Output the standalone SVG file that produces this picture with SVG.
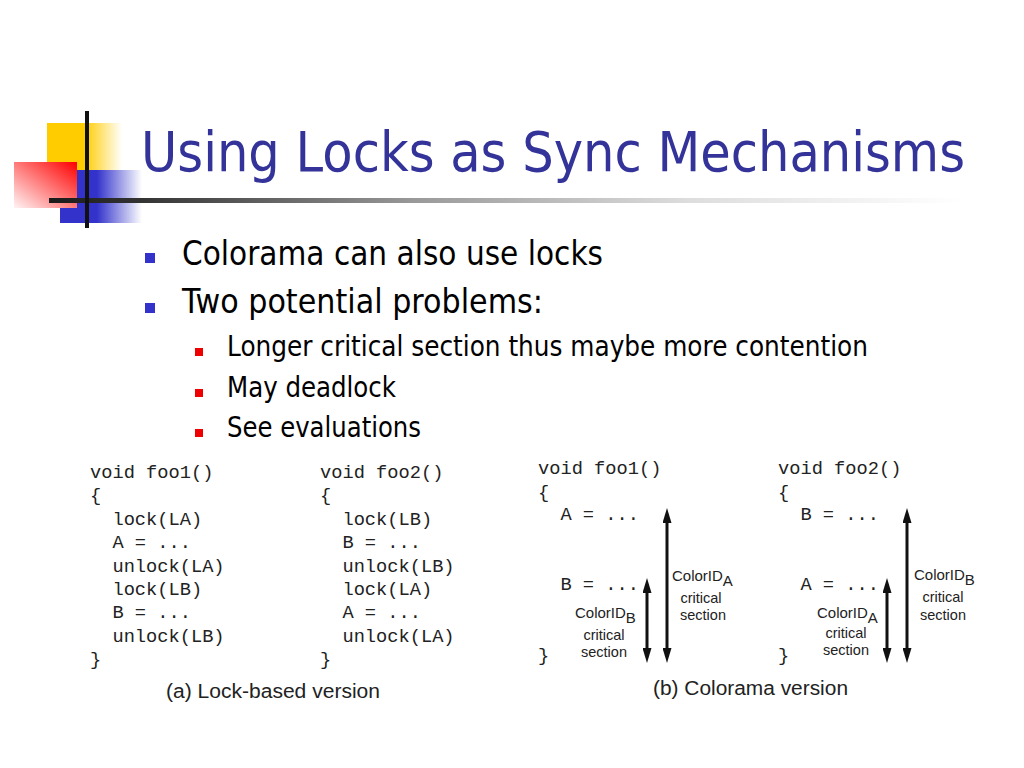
<svg xmlns="http://www.w3.org/2000/svg" width="1024" height="768" viewBox="0 0 1024 768">
<style>
.title{font-family:"DejaVu Sans",Verdana,sans-serif;font-size:56px;fill:#333399}
.b1{font-family:"DejaVu Sans",Verdana,sans-serif;font-size:34px;fill:#000}
.b2{font-family:"DejaVu Sans",Verdana,sans-serif;font-size:28px;fill:#000}
.code{font-family:"Liberation Mono","Courier New",monospace;font-size:18.7px;fill:#222;white-space:pre}
.cap{font-family:"Liberation Sans",Arial,sans-serif;font-size:20px;fill:#222}
.lbl{font-family:"Liberation Sans",Arial,sans-serif;font-size:15px;fill:#222}
.lbl2{font-family:"Liberation Sans",Arial,sans-serif;font-size:14.5px;fill:#222;text-anchor:middle}
.arr{stroke:#111;stroke-width:3;fill:none;marker-start:url(#ah);marker-end:url(#ah)}
</style>
<defs>
<linearGradient id="gy" x1="0" y1="0" x2="1" y2="0"><stop offset="0" stop-color="#FFCC00"/><stop offset="0.5" stop-color="#FFCC00"/><stop offset="1" stop-color="#FFFFFF"/></linearGradient>
<linearGradient id="gb" x1="0" y1="0" x2="1" y2="0"><stop offset="0" stop-color="#3333CC"/><stop offset="0.45" stop-color="#3333CC"/><stop offset="1" stop-color="#FFFFFF"/></linearGradient>
<linearGradient id="gr" x1="1" y1="0" x2="0" y2="1"><stop offset="0" stop-color="#FF0000"/><stop offset="1" stop-color="#FFF4F4"/></linearGradient>
<linearGradient id="gl" x1="0" y1="0" x2="1" y2="0"><stop offset="0" stop-color="#1a1a1a"/><stop offset="0.1" stop-color="#333"/><stop offset="0.4" stop-color="#999"/><stop offset="0.7" stop-color="#ddd"/><stop offset="1" stop-color="#fff"/></linearGradient>
<marker id="ah" viewBox="0 0 15 9" refX="5" refY="4.5" markerWidth="15" markerHeight="9" markerUnits="userSpaceOnUse" orient="auto-start-reverse"><path d="M0,0 L15,4.5 L0,9 z" fill="#111"/></marker>
</defs>
<rect width="1024" height="768" fill="#fff"/>
<g id="logo">
<rect x="47" y="123" width="75" height="47" fill="url(#gy)"/>
<rect x="60" y="170" width="82" height="53" fill="url(#gb)"/>
<rect x="14" y="162" width="63" height="46" fill="url(#gr)"/>
<rect x="49" y="198" width="912" height="5" fill="url(#gl)"/>
<rect x="85" y="111" width="4" height="117" fill="#111"/>
</g>
<g id="title"><text class="title" x="141" y="171" textLength="824" lengthAdjust="spacingAndGlyphs">Using Locks as Sync Mechanisms</text></g>
<g id="bullets">
<rect x="145" y="253" width="10" height="10" fill="#3333CC"/>
<text class="b1" x="182" y="265" textLength="421" lengthAdjust="spacingAndGlyphs">Colorama can also use locks</text>
<rect x="145" y="303" width="10" height="10" fill="#3333CC"/>
<text class="b1" x="182" y="313" textLength="361" lengthAdjust="spacingAndGlyphs">Two potential problems:</text>
<rect x="195" y="348" width="8" height="8" fill="#EE0000"/>
<text class="b2" x="227" y="356" textLength="641" lengthAdjust="spacingAndGlyphs">Longer critical section thus maybe more contention</text>
<rect x="195" y="389" width="8" height="8" fill="#EE0000"/>
<text class="b2" x="227" y="397" textLength="169" lengthAdjust="spacingAndGlyphs">May deadlock</text>
<rect x="195" y="429" width="8" height="8" fill="#EE0000"/>
<text class="b2" x="227" y="437" textLength="194" lengthAdjust="spacingAndGlyphs">See evaluations</text>
</g>
<g id="lock-foo1">
<text class="code" x="90" y="478">void foo1()</text>
<text class="code" x="90" y="501.4">{</text>
<text class="code" x="90" y="524.8">  lock(LA)</text>
<text class="code" x="90" y="548.2">  A = ...</text>
<text class="code" x="90" y="571.6">  unlock(LA)</text>
<text class="code" x="90" y="595">  lock(LB)</text>
<text class="code" x="90" y="618.4">  B = ...</text>
<text class="code" x="90" y="641.8">  unlock(LB)</text>
<text class="code" x="90" y="665.2">}</text>
</g>
<g id="lock-foo2">
<text class="code" x="320" y="478">void foo2()</text>
<text class="code" x="320" y="501.4">{</text>
<text class="code" x="320" y="524.8">  lock(LB)</text>
<text class="code" x="320" y="548.2">  B = ...</text>
<text class="code" x="320" y="571.6">  unlock(LB)</text>
<text class="code" x="320" y="595">  lock(LA)</text>
<text class="code" x="320" y="618.4">  A = ...</text>
<text class="code" x="320" y="641.8">  unlock(LA)</text>
<text class="code" x="320" y="665.2">}</text>
</g>
<g id="caption-a"><text class="cap" x="166" y="698" textLength="214" lengthAdjust="spacingAndGlyphs">(a) Lock-based version</text></g>
<g id="colorama-foo1">
<text class="code" x="538" y="474">void foo1()</text>
<text class="code" x="538" y="498">{</text>
<text class="code" x="538" y="520">  A = ...</text>
<text class="code" x="538" y="590">  B = ...</text>
<text class="code" x="538" y="661">}</text>
<text class="lbl" x="672" y="581">ColorID<tspan dy="5">A</tspan></text>
<text class="lbl2" x="701" y="603">critical</text>
<text class="lbl2" x="703" y="620">section</text>
<text class="lbl" x="575" y="618">ColorID<tspan dy="5">B</tspan></text>
<text class="lbl2" x="604" y="640">critical</text>
<text class="lbl2" x="604" y="657">section</text>
</g>
<g id="colorama-foo2">
<text class="code" x="778" y="474">void foo2()</text>
<text class="code" x="778" y="498">{</text>
<text class="code" x="778" y="520">  B = ...</text>
<text class="code" x="778" y="590">  A = ...</text>
<text class="code" x="778" y="661">}</text>
<text class="lbl" x="914" y="580">ColorID<tspan dy="5">B</tspan></text>
<text class="lbl2" x="943" y="602">critical</text>
<text class="lbl2" x="943" y="620">section</text>
<text class="lbl" x="817" y="618">ColorID<tspan dy="5">A</tspan></text>
<text class="lbl2" x="846" y="638">critical</text>
<text class="lbl2" x="846" y="655">section</text>
</g>
<g id="connectors">
<line class="arr" x1="667" y1="518" x2="667" y2="653"/>
<line class="arr" x1="647" y1="588" x2="647" y2="653"/>
<line class="arr" x1="907" y1="518" x2="907" y2="653"/>
<line class="arr" x1="887" y1="588" x2="887" y2="653"/>
</g>
<g id="caption-b"><text class="cap" x="653" y="695" textLength="195" lengthAdjust="spacingAndGlyphs">(b) Colorama version</text></g>
</svg>
